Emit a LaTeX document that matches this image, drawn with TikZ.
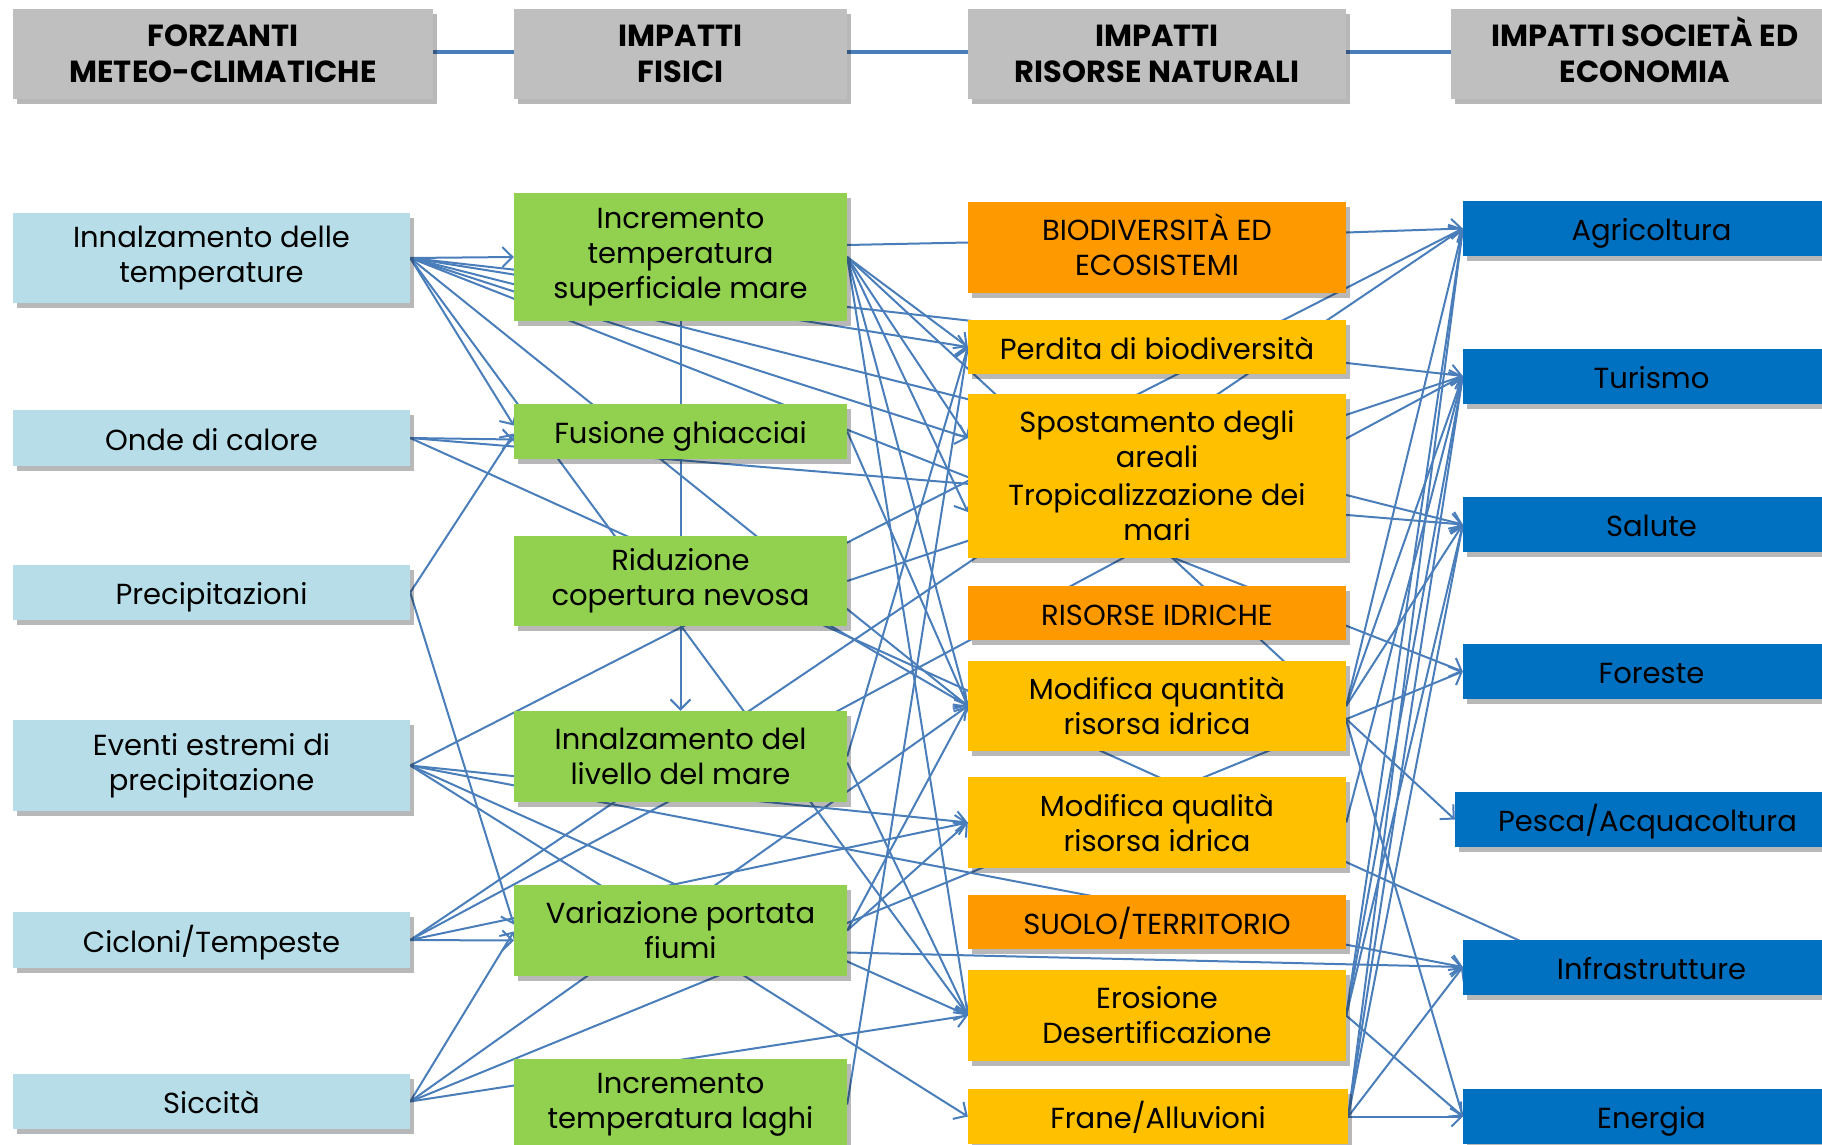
\documentclass[tikz,border=0pt]{standalone}
\usepackage{fontspec}
\setmainfont{Poppins}
\usetikzlibrary{arrows.meta,shadows}

\definecolor{hdr}{HTML}{BFBFBF}
\definecolor{forz}{HTML}{B7DEE8}
\definecolor{fis}{HTML}{92D050}
\definecolor{cat}{HTML}{FF9900}
\definecolor{ris}{HTML}{FFC000}
\definecolor{soc}{HTML}{0070C0}
\definecolor{link}{HTML}{4A7EBB}

\pgfdeclarelayer{background}
\pgfsetlayers{background,main}

\tikzset{
  card/.style={inner sep=0pt, align=center, text=black,
    font=\fontsize{29}{35}\selectfont,
    drop shadow={shadow xshift=4pt, shadow yshift=-5pt, opacity=0.28, fill=black}},
  oneline/.style={text height=24pt, text depth=0pt},
  head/.style={card, fill=hdr, minimum height=90pt,
    font=\fontsize{30.5}{36}\selectfont\bfseries},
  forc/.style={card, fill=forz, minimum width=397pt},
  phys/.style={card, fill=fis, minimum width=333pt},
  topic/.style={card, fill=cat, minimum width=378pt},
  res/.style={card, fill=ris, minimum width=378pt},
  econ/.style={card, oneline, fill=soc, minimum width=377pt, minimum height=55pt},
  lnk/.style={draw=link, line width=2pt},
  arr/.style={lnk, -{Straight Barb[length=10pt,width=20pt]}},
  rail/.style={draw=link, line width=4.5pt}
}

\begin{document}
\begin{tikzpicture}[x=1pt, y=-1pt]
\useasboundingbox (0,0) rectangle (1822,1145);

% column headers
\node[head, minimum width=420pt] (h1) at (223,54) {FORZANTI\\METEO-CLIMATICHE};
\node[head, minimum width=333pt] (h2) at (680.5,54) {IMPATTI\\FISICI};
\node[head, minimum width=378pt] (h3) at (1157,54) {IMPATTI\\RISORSE NATURALI};
\node[head, minimum width=388pt] (h4) at (1645,54) {IMPATTI SOCIET\smash{À} ED\\ECONOMIA};

% meteo-climatic drivers
\node[forc, minimum height=90pt] (inn)  at (211.5,258)   {Innalzamento delle\\temperature};
\node[forc, oneline, minimum height=56pt] (onde) at (211.5,438)   {Onde di calore};
\node[forc, oneline, minimum height=55pt] (prec) at (211.5,592.5) {Precipitazioni};
\node[forc, minimum height=91pt] (even) at (211.5,765.5) {Eventi estremi di\\precipitazione};
\node[forc, oneline, minimum height=56pt] (cicl) at (211.5,940)   {Cicloni/Tempeste};
\node[forc, oneline, minimum height=55pt] (sicc) at (211.5,1101.5){Siccità};

% physical impacts
\node[phys, minimum height=128pt] (incsm) at (680.5,257)   {Incremento\\temperatura\\superficiale mare};
\node[phys, oneline, minimum height=55pt]  (fus)   at (680.5,431.5) {Fusione ghiacciai};
\node[phys, minimum height=90pt]  (rid)   at (680.5,581)   {Riduzione\\copertura nevosa};
\node[phys, minimum height=91pt]  (liv)   at (680.5,756.5) {Innalzamento del\\livello del mare};
\node[phys, minimum height=91pt]  (var)   at (680.5,930.5) {Variazione portata\\fiumi};
\node[phys, minimum height=91pt]  (lag)   at (680.5,1104.5){Incremento\\temperatura laghi};

% natural resources
\node[topic, minimum height=91pt] (bio)   at (1157,247.5)  {BIODIVERSIT\smash{À} ED\\ECOSISTEMI};
\node[res, oneline, minimum height=54pt] (perd)  at (1157,347)    {Perdita di biodiversità};
\node[res,   minimum height=164pt](spos)  at (1157,476)    {Spostamento degli\\areali\\[3pt]Tropicalizzazione dei\\mari};
\node[topic, oneline, minimum height=54pt] (risid) at (1157,613)    {RISORSE IDRICHE};
\node[res,   minimum height=90pt] (quant) at (1157,706)    {Modifica quantità\\risorsa idrica};
\node[res,   minimum height=91pt] (qual)  at (1157,822.5)  {Modifica qualità\\risorsa idrica};
\node[topic, oneline, minimum height=54pt] (suolo) at (1157,922)    {SUOLO/TERRITORIO};
\node[res,   minimum height=91pt] (eros)  at (1157,1015.5) {Erosione\\Desertificazione};
\node[res, oneline, minimum height=55pt, minimum width=380pt] (frane) at (1158,1116.5) {Frane/Alluvioni};

% society and economy
\node[econ] (agri) at (1651.5,228.5)  {Agricoltura};
\node[econ] (tur)  at (1651.5,376)    {Turismo};
\node[econ] (sal)  at (1651.5,524.5)  {Salute};
\node[econ] (fore) at (1651.5,671.5)  {Foreste};
\node[econ, minimum width=385pt] (pes) at (1647.5,819.5) {Pesca/Acquacoltura};
\node[econ] (inf)  at (1651.5,967)    {Infrastrutture};
\node[econ] (ene)  at (1651.5,1116.5) {Energia};

\begin{pgfonlayer}{background}
% rail joining the headers
\draw[rail] ([yshift=2pt]h1.east) -- ([yshift=2pt]h2.west);
\draw[rail] ([yshift=2pt]h2.east) -- ([yshift=2pt]h3.west);
\draw[rail] ([yshift=2pt]h3.east) -- ([yshift=2pt]h4.west);

% drivers -> physical impacts
\draw[arr] (inn.east)  -- (incsm.west);
\draw[arr] (inn.east)  -- ([yshift=6pt]fus.west);
\draw[arr] (onde.east) -- ([yshift=-8pt]fus.west);
\draw[arr] (prec.east) -- ([yshift=-2pt]fus.west);
\draw[arr] (prec.east) -- ([yshift=6pt]var.west);
\draw[arr] (cicl.east) -- ([yshift=-10pt]var.west);
\draw[arr] (sicc.east) -- ([yshift=-1pt]var.west);
\draw[arr] (incsm.south) -- (liv.north);

% rising temperatures: long links
\draw[arr] (inn.east) -- (tur.west);
\draw[arr] (inn.east) -- (perd.west);
\draw[arr] (inn.east) -- (sal.west);
\draw[arr] (inn.east) -- ([yshift=38pt]spos.west);
\draw[arr] (inn.east) -- (fore.west);
\draw[arr] (inn.east) -- (quant.west);
\draw[arr] (inn.east) -- (eros.west);

% heat waves
\draw[arr] (onde.east) -- (sal.west);
\draw[lnk] (onde.east) -- ([shift={(67pt,-6pt)}]inf.north west);

% extreme precipitation
\draw[arr] (even.east) -- (qual.west);
\draw[arr] (even.east) -- (inf.west);
\draw[arr] (even.east) -- (eros.west);
\draw[arr] (even.east) -- (frane.west);
\draw[arr] (even.east) -- (agri.west);

% storms
\draw[arr] (cicl.east) -- (agri.west);
\draw[arr] (cicl.east) -- (tur.west);
\draw[arr] (cicl.east) -- (qual.west);

% drought
\draw[arr] (sicc.east) -- (quant.west);
\draw[arr] (sicc.east) -- (fore.west);
\draw[arr] (sicc.east) -- (eros.west);

% physical impacts -> natural resources
\draw[lnk] ([yshift=12pt]incsm.east) -- ([yshift=5pt]bio.west);
\draw[arr] (incsm.east) -- (perd.west);
\draw[arr] (incsm.east) -- ([yshift=38pt]spos.west);
\draw[arr] (incsm.east) -- ([yshift=-36pt]spos.west);
\draw[arr] (incsm.east) -- (pes.west);
\draw[arr] (incsm.east) -- (quant.west);
\draw[arr] (incsm.east) -- (eros.west);
\draw[arr] (fus.east) -- (quant.west);
\draw[arr] (rid.east) -- (tur.west);
\draw[arr] ([shift={(80pt,-4pt)}]rid.center) -- (quant.west);
\draw[arr] (liv.east) -- (perd.west);
\draw[arr] ([yshift=-6pt]liv.east) -- (eros.west);
\draw[arr] (var.east) -- (qual.west);
\draw[arr] (var.east) -- (quant.west);
\draw[arr] ([yshift=-22pt]var.east) -- (inf.west);
\draw[arr] (lag.east) -- (perd.west);

% natural resources -> society and economy
\draw[arr] ([yshift=15pt]bio.east) -- (agri.west);
\draw[arr] (quant.east) -- (agri.west);
\draw[arr] (quant.east) -- (tur.west);
\draw[arr] (quant.east) -- (sal.west);
\draw[arr] ([yshift=-14pt]quant.east) -- (ene.west);
\draw[arr] (qual.east) -- (tur.west);
\draw[arr] (eros.east) -- (agri.west);
\draw[arr] (eros.east) -- (tur.west);
\draw[arr] (eros.east) -- (sal.west);
\draw[arr] (eros.east) -- (ene.west);
\draw[arr] (frane.east) -- (agri.west);
\draw[arr] (frane.east) -- (tur.west);
\draw[arr] (frane.east) -- (sal.west);
\draw[arr] (frane.east) -- (inf.west);
\draw[arr] (frane.east) -- (ene.west);
\end{pgfonlayer}
\end{tikzpicture}
\end{document}
